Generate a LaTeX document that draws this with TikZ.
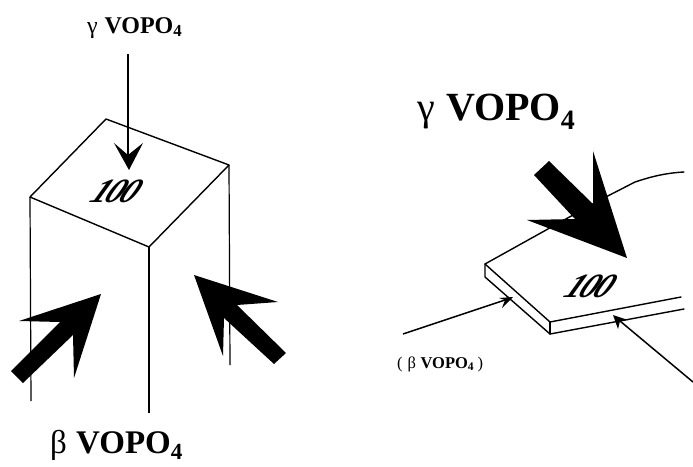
\documentclass[tikz,border=0pt]{standalone}
\usepackage{fontspec}
\setmainfont{Liberation Serif}
\tikzset{
  edge/.style={line width=1.4pt,line join=round,line cap=round},
  thin edge/.style={line width=1.2pt,line cap=butt},
  pointer/.style={line width=1.5pt},
  lbl/.style={inner sep=0pt,anchor=base west},
  hkl/.style={inner sep=0pt,transform shape,xslant=.55,font=\bfseries\itshape\fontsize{34}{34}\selectfont},
}
\newcommand{\vopo}[1]{{\mdseries #1}\hspace{.28em}\textbf{VOPO\textsubscript{4}}}
\newcommand{\tightnum}{1\kern-.08em 0\kern-.08em 0}
\begin{document}
\begin{tikzpicture}[x=1pt,y=-1pt]
\useasboundingbox (0,0) rectangle (693,466);
% left block
\coordinate (tb) at (106,119);
\coordinate (tr) at (229,165);
\coordinate (tf) at (149,247);
\coordinate (tl) at (30,197);
\coordinate (bl) at (31,401);
\coordinate (br) at (230,365);
\coordinate (bf) at (149,413);
\draw[edge] (tb) -- (tr) -- (tf) -- (tl) -- cycle;
\draw[thin edge] (tl) -- (bl);
\draw[thin edge] (tr) -- (br);
\draw[thin edge] (tf) -- (bf);
% top arrow
\coordinate (a0) at (128,54);
\coordinate (a1) at (129,170);
\draw[line width=2pt] (a0) -- (128,155);
\fill (a1) -- (114,143) -- (128,155) -- (143,143) -- cycle;
% block arrows left
\fill (11,371) -- (60,322) -- (19,321) -- (101,294) -- (74,378) -- (73,335) -- (23,383) -- cycle;
\fill (286,353) -- (237,305) -- (278,302) -- (194,275) -- (223,356) -- (224,318) -- (274,364) -- cycle;
% plate
\coordinate (pb) at (485,264);
\coordinate (pf) at (550,322);
\coordinate (pfb) at (550,334);
\coordinate (pbb) at (485,277);
\coordinate (pr) at (681,297);
\coordinate (prb) at (684,309);
\coordinate (pt) at (684,172);
\draw[edge] (pt) .. controls (665,173) and (650,177) .. (635,182) -- (600,200) -- (pb) -- (pf) -- (pr);
\draw[edge] (pb) -- (pbb) -- (pfb) -- (prb);
\draw[edge] (pf) -- (pfb);
% block arrow right
\fill (534,175) -- (549,161) -- (593,204) -- (593,151) -- (627,258) -- (527,220) -- (575,219) -- cycle;
% small pointers
\coordinate (s0) at (403,334);
\coordinate (s1) at (513,297);
\draw[pointer] (s0) -- (505,300);
\fill (s1) -- (499,298) -- (505,300) -- (502,308) -- cycle;
\coordinate (r0) at (693,382);
\coordinate (r1) at (613,315);
\draw[pointer] (r0) -- (620,321);
\fill (r1) -- (628,320) -- (620,321) -- (618,329) -- cycle;
% labels
\node[lbl,font=\fontsize{24}{24}\selectfont] (lt) at (87,33) {\vopo{γ}};
\node[lbl,font=\fontsize{33}{33}\selectfont] (lb) at (50,453) {\vopo{β}};
\node[lbl,font=\fontsize{40}{40}\selectfont] (lr) at (417,120) {\vopo{γ}};
\node[lbl,font=\fontsize{16.5}{16.5}\selectfont] (ls) at (397,368) {(\hspace{.3em}\vopo{β}\hspace{.2em})};
\node[hkl] (h1) at (117,191) {\tightnum};
\node[hkl] (h2) at (591,286) {\tightnum};
\end{tikzpicture}
\end{document}
